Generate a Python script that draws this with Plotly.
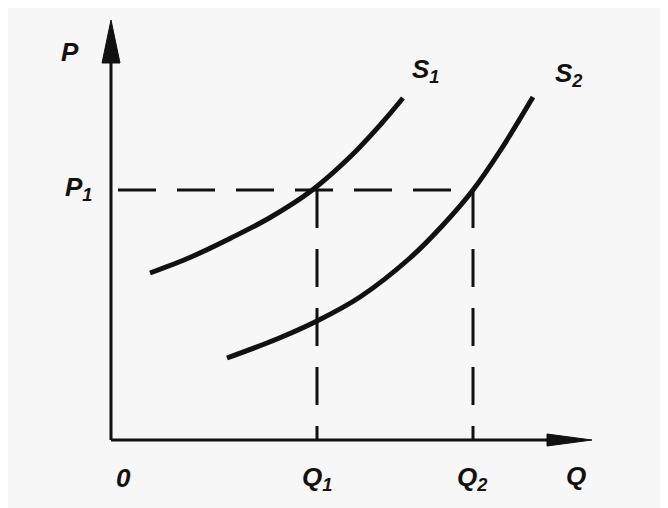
import plotly.graph_objects as go

# ---- data (units: chart units, origin at the axes' corner) ----
s1_q = [39, 80, 120, 160, 200, 240, 270, 292]
s1_p = [167, 183, 202, 223, 249, 284, 316, 342]
s2_q = [116, 166, 206, 249, 299, 332, 362, 389, 422]
s2_p = [82, 101, 119, 143, 182, 215, 250, 289, 343]

P1 = 250
Q1 = 206
Q2 = 362
X_END = 481   # x-axis arrow tip
Y_END = 420   # y-axis arrow tip

labels = ["P", "P<sub>1</sub>", "S<sub>1</sub>", "S<sub>2</sub>", "0", "Q<sub>1</sub>", "Q<sub>2</sub>", "Q"]
label_x = [-41, -33, 314, 457, 12, 206, 361, 465]
label_y = [388, 252, 370, 366, -38, -38, -38, -36]

INK = "#111111"
BG = "#f7f7f7"

fig = go.Figure()

# supply curves
for q, p in [(s1_q, s1_p), (s2_q, s2_p)]:
    fig.add_trace(go.Scatter(x=q, y=p, mode="lines",
                             line=dict(color=INK, width=5, shape="spline", smoothing=1.0),
                             hoverinfo="skip", showlegend=False))

# dashed guides
dash = "38px,21px"
fig.add_trace(go.Scatter(x=[7, Q2], y=[P1, P1], mode="lines",
                         line=dict(color=INK, width=3, dash=dash), hoverinfo="skip", showlegend=False))
for qv in [Q1, Q2]:
    fig.add_trace(go.Scatter(x=[qv, qv], y=[P1, 0], mode="lines",
                             line=dict(color=INK, width=3, dash=dash), hoverinfo="skip", showlegend=False))

# axes lines
shapes = [
    dict(type="line", x0=0, y0=0, x1=0, y1=Y_END - 20, line=dict(color=INK, width=3), xref="x", yref="y"),
    dict(type="line", x0=0, y0=0, x1=X_END - 20, y1=0, line=dict(color=INK, width=3), xref="x", yref="y"),
    # arrowheads
    dict(type="path", xref="x", yref="y",
         path=f"M {-9} {Y_END-43} L 0 {Y_END} L 9 {Y_END-43} Z",
         fillcolor=INK, line=dict(color=INK, width=1)),
    dict(type="path", xref="x", yref="y",
         path=f"M {X_END-45} 6 L {X_END} 0 L {X_END-45} -6 Z",
         fillcolor=INK, line=dict(color=INK, width=1)),
]

annotations = [
    dict(x=x, y=y, text=t, showarrow=False, xref="x", yref="y",
         font=dict(family="Liberation Sans, Arial, sans-serif", size=26, color=INK,
                   weight="bold", style="italic"))
    for t, x, y in zip(labels, label_x, label_y)
]

fig.update_layout(
    width=668, height=508,
    margin=dict(l=0, r=0, t=0, b=0),
    paper_bgcolor=BG, plot_bgcolor=BG,
    xaxis=dict(range=[-103, 565], visible=False, fixedrange=True),
    yaxis=dict(range=[-76, 432], visible=False, fixedrange=True),
    shapes=shapes,
    annotations=annotations,
)

fig.write_html("out.html")
